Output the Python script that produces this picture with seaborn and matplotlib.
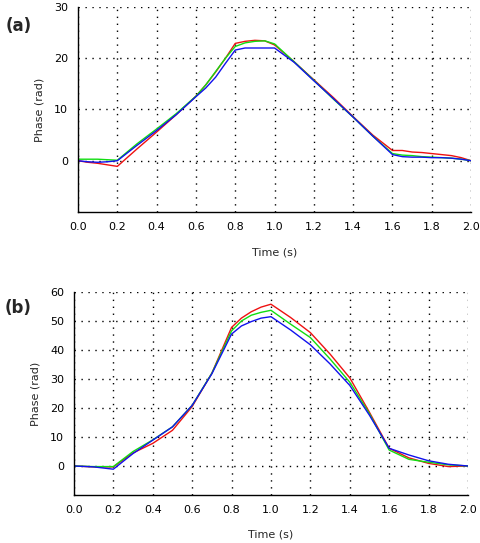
import numpy as np
import pandas as pd
import seaborn as sns
import matplotlib.pyplot as plt
from matplotlib.ticker import MultipleLocator

# Panel (a) data
time_a = [0.0, 0.05, 0.1, 0.15, 0.2, 0.3, 0.4, 0.5, 0.6, 0.65, 0.7, 0.75, 0.8, 0.85, 0.9, 0.95,
          1.0, 1.1, 1.2, 1.3, 1.4, 1.5, 1.6, 1.65, 1.7, 1.75, 1.8, 1.85, 1.9, 1.95, 2.0]
red_a = [0.0, -0.3, -0.5, -0.8, -1.1, 2.3, 5.6, 9.0, 12.6, 14.8, 17.3, 20.0, 22.9, 23.3, 23.5, 23.4,
         22.6, 19.3, 15.8, 12.3, 8.6, 5.0, 2.0, 2.0, 1.7, 1.6, 1.4, 1.2, 1.0, 0.6, 0.0]
green_a = [0.3, 0.3, 0.3, 0.2, 0.1, 3.3, 6.2, 9.2, 12.6, 14.8, 17.4, 20.0, 22.3, 23.0, 23.3, 23.4,
           22.8, 19.3, 15.7, 12.0, 8.5, 4.8, 1.4, 1.1, 1.0, 0.8, 0.7, 0.6, 0.5, 0.3, 0.0]
blue_a = [0.0, -0.2, -0.3, -0.2, 0.0, 3.0, 5.9, 9.0, 12.5, 14.2, 16.3, 19.0, 21.6, 22.0, 22.0, 22.0,
          22.0, 19.2, 15.6, 12.1, 8.5, 4.8, 1.2, 0.8, 0.7, 0.7, 0.6, 0.6, 0.5, 0.3, 0.0]

# Panel (b) data
time_b = [0.0, 0.1, 0.2, 0.3, 0.4, 0.5, 0.6, 0.7, 0.8, 0.85, 0.9, 0.95, 1.0, 1.1, 1.2, 1.3,
          1.4, 1.5, 1.6, 1.7, 1.8, 1.9, 2.0]
red_b = [0.0, -0.3, -0.3, 4.5, 7.8, 12.3, 20.5, 32.0, 47.8, 51.0, 53.2, 54.8, 55.8, 51.2, 46.0, 38.6,
         30.4, 18.5, 6.1, 2.8, 0.9, -0.2, 0.0]
green_b = [0.0, -0.2, -0.2, 5.0, 9.0, 13.5, 20.9, 32.0, 46.6, 50.0, 52.0, 53.0, 53.7, 48.9, 44.3, 36.9,
           28.9, 18.0, 5.5, 2.3, 1.3, 0.4, 0.0]
blue_b = [0.0, -0.3, -1.1, 4.3, 8.9, 13.5, 20.9, 31.8, 45.5, 48.3, 49.8, 51.0, 51.5, 46.9, 41.8, 35.2,
          27.8, 17.5, 6.1, 3.8, 1.8, 0.6, 0.0]

series_names = ["red", "green", "blue"]
palette = {"red": "#ee1111", "green": "#11dd11", "blue": "#1111ee"}


def to_long(t, red, green, blue):
    frames = []
    for name, vals in zip(series_names, [red, green, blue]):
        frames.append(pd.DataFrame({"Time": t, "Phase": vals, "series": name}))
    return pd.concat(frames, ignore_index=True)


df_a = to_long(time_a, red_a, green_a, blue_a)
df_b = to_long(time_b, red_b, green_b, blue_b)

sns.set_style("white")
plt.rcParams["font.family"] = ["DejaVu Sans"]

fig = plt.figure(figsize=(4.8, 5.43), dpi=100)
ax_a = fig.add_axes([0.1625, 0.6096, 0.819, 0.3775])
ax_b = fig.add_axes([0.154, 0.0884, 0.821, 0.3738])


def style_axis(ax, df, ymin, ymax, ystep, label, label_y):
    sns.lineplot(data=df, x="Time", y="Phase", hue="series", palette=palette,
                 hue_order=series_names, linewidth=1.0, legend=False, ax=ax, sort=False)
    ax.set_xlim(0, 2.0)
    ax.set_ylim(ymin, ymax)
    ax.xaxis.set_major_locator(MultipleLocator(0.2))
    ax.xaxis.set_minor_locator(MultipleLocator(0.1))
    ax.set_yticks(np.arange(0, ymax + 1, ystep))
    ax.yaxis.set_minor_locator(MultipleLocator(ystep / 2))
    ax.xaxis.set_major_formatter(plt.FuncFormatter(lambda v, p: f"{v:.1f}"))
    for s in ["top", "right"]:
        ax.spines[s].set_visible(False)
    for s in ["left", "bottom"]:
        ax.spines[s].set_color("black")
        ax.spines[s].set_linewidth(1.0)
    ax.tick_params(which="both", direction="inout", color="black", width=1.0)
    ax.tick_params(which="major", length=6, labelsize=8, colors="black", pad=4)
    ax.tick_params(which="minor", length=5)
    ax.grid(True, which="major", color="black", linestyle=(0, (1, 4)), linewidth=1.0)
    ax.set_xlabel("Time (s)", fontsize=8)
    ax.set_ylabel("Phase (rad)", fontsize=8)
    ax.xaxis.set_label_coords(0.5, -0.172)
    ax.yaxis.set_label_coords(-0.085, 0.5)
    ax.text(-0.185, label_y, label, transform=ax.transAxes, fontsize=12, fontweight="bold",
            ha="left", va="center")


style_axis(ax_a, df_a, -10, 30, 10, "(a)", 0.905)
style_axis(ax_b, df_b, -10, 60, 10, "(b)", 0.92)
ax_b.texts[0].set_x(-0.175)

fig.savefig("out.png", dpi=100)
